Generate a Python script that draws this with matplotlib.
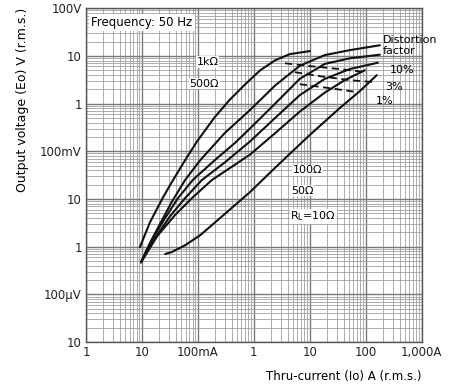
import matplotlib
matplotlib.use("Agg")
import matplotlib.pyplot as plt
from matplotlib.ticker import FixedLocator, NullFormatter, LogLocator
import numpy as np

plt.rcParams['font.family'] = ['DejaVu Sans']

# ---- data (current in A, voltage in V) ----
rl_1k_i = [0.0092, 0.014, 0.024, 0.036, 0.059, 0.096, 0.2, 0.37, 0.69, 1.3, 2.4, 4.4, 10]
rl_1k_v = [0.00098, 0.0033, 0.011, 0.025, 0.065, 0.16, 0.52, 1.2, 2.5, 5.0, 8.1, 10.9, 12.6]

rl_500_i = [0.0096, 0.014, 0.021, 0.034, 0.059, 0.11, 0.3, 0.85, 2.4, 6.6, 18.5, 52, 178]
rl_500_v = [0.00047, 0.0012, 0.003, 0.0086, 0.025, 0.065, 0.24, 0.73, 2.4, 6.2, 10.4, 13.2, 16.7]

rl_c_i = [0.0096, 0.015, 0.026, 0.044, 0.081, 0.2, 0.46, 0.85, 2.4, 6.6, 18.5, 52, 178]
rl_c_v = [0.00047, 0.0014, 0.004, 0.0104, 0.025, 0.065, 0.15, 0.30, 1.0, 3.3, 6.8, 8.9, 10.6]

rl_100_i = [0.0096, 0.017, 0.032, 0.059, 0.118, 0.3, 0.85, 2.4, 6.6, 18.5, 52, 164]
rl_100_v = [0.00047, 0.0015, 0.0044, 0.0104, 0.025, 0.058, 0.16, 0.5, 1.5, 3.3, 5.3, 7.2]

rl_50_i = [0.0096, 0.019, 0.039, 0.078, 0.178, 0.4, 0.85, 2.4, 6.6, 18.5, 42, 96]
rl_50_v = [0.00047, 0.0017, 0.0046, 0.0104, 0.025, 0.047, 0.085, 0.24, 0.68, 1.7, 3.1, 5.0]

rl_10_i = [0.026, 0.034, 0.059, 0.11, 0.25, 0.85, 2.9, 10, 34, 78, 157]
rl_10_v = [0.0007, 0.00077, 0.00107, 0.00174, 0.0040, 0.0139, 0.056, 0.22, 0.8, 1.82, 3.94]

df10_i = [3.6, 10, 34, 104]
df10_v = [7.0, 6.1, 5.3, 4.55]
df3_i = [5.4, 15, 52, 145]
df3_v = [4.55, 3.75, 3.1, 2.8]
df1_i = [6.6, 23, 72]
df1_v = [2.55, 2.1, 1.73]

x_ticks = [1e-3, 1e-2, 1e-1, 1, 10, 100, 1000]
x_labels = ["1", "10", "100mA", "1", "10", "100", "1,000A"]
y_ticks = [1e-5, 1e-4, 1e-3, 1e-2, 1e-1, 1, 10, 100]
y_labels = ["10", "100µV", "1", "10", "100mV", "1", "10", "100V"]

fig = plt.figure(figsize=(4.55, 3.9), dpi=100)
ax = fig.add_axes([0.189, 0.123, 0.738, 0.856])
ax.set_xscale('log')
ax.set_yscale('log')
ax.set_xlim(1e-3, 1e3)
ax.set_ylim(1e-5, 1e2)

ax.xaxis.set_major_locator(FixedLocator(x_ticks))
ax.set_xticklabels(x_labels)
ax.yaxis.set_major_locator(FixedLocator(y_ticks))
ax.set_yticklabels(y_labels)
ax.xaxis.set_minor_locator(LogLocator(base=10, subs=np.arange(2, 10)))
ax.yaxis.set_minor_locator(LogLocator(base=10, subs=np.arange(2, 10)))
ax.xaxis.set_minor_formatter(NullFormatter())
ax.yaxis.set_minor_formatter(NullFormatter())
ax.tick_params(which='both', length=0, labelsize=8.5, colors='#222222', pad=3)

ax.grid(which='minor', color='#a0a0a0', linewidth=0.6)
ax.grid(which='major', color='#7a7a7a', linewidth=1.0)
for s in ax.spines.values():
    s.set_color('#555555')
    s.set_linewidth(1.0)

lw = 1.5
for xi, yi in [(rl_1k_i, rl_1k_v), (rl_500_i, rl_500_v), (rl_c_i, rl_c_v),
               (rl_100_i, rl_100_v), (rl_50_i, rl_50_v), (rl_10_i, rl_10_v)]:
    ax.plot(xi, yi, color='#111111', linewidth=lw, solid_capstyle='round')

for xi, yi in [(df10_i, df10_v), (df3_i, df3_v), (df1_i, df1_v)]:
    ax.plot(xi, yi, color='#111111', linewidth=1.3, linestyle=(0, (4, 2.5)))

fs = 8
wb = dict(facecolor='white', edgecolor='none', pad=0.5)
ax.text(1.25e-3, 50, "Frequency: 50 Hz", fontsize=8.5, va='center', ha='left',
        bbox=dict(facecolor='white', edgecolor='none', pad=1.5))
ax.text(0.15, 7.5, "1kΩ", fontsize=fs, ha='center', va='center', bbox=wb)
ax.text(0.13, 2.6, "500Ω", fontsize=fs, ha='center', va='center', bbox=wb)
ax.text(200, 22, "Distortion", fontsize=fs, ha='left', va='center')
ax.text(200, 12.5, "factor", fontsize=fs, ha='left', va='center')
ax.text(270, 5.0, "10%", fontsize=fs, ha='left', va='center')
ax.text(220, 2.2, "3%", fontsize=fs, ha='left', va='center')
ax.text(150, 1.15, "1%", fontsize=fs, ha='left', va='center')
ax.text(5.0, 0.04, "100Ω", fontsize=fs, ha='left', va='center', bbox=wb)
ax.text(4.6, 0.015, "50Ω", fontsize=fs, ha='left', va='center', bbox=wb)
ax.text(4.5, 0.0043, "R$_\\mathregular{L}$=10Ω", fontsize=fs, ha='left', va='center', bbox=wb)

ax.set_xlabel("Thru-current (Io) A (r.m.s.)", fontsize=8.5, loc='right', labelpad=8)
ax.set_ylabel("Output voltage (Eo) V (r.m.s.)", fontsize=9, loc='top', labelpad=8)

fig.savefig("out.png", dpi=100)
